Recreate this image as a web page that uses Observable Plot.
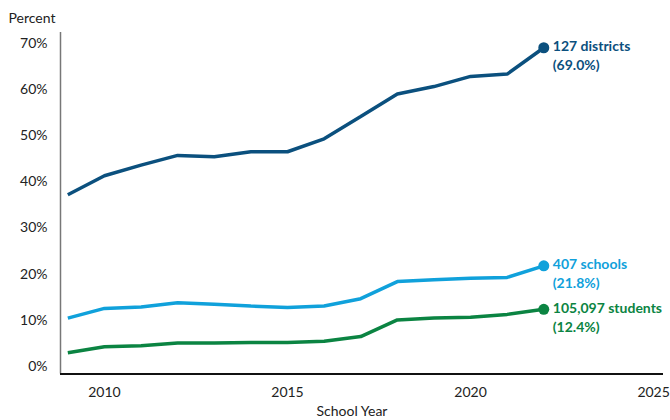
<!DOCTYPE html>
<html>
<head>
<meta charset="utf-8">
<script src="https://cdn.jsdelivr.net/npm/d3@7"></script>
<script src="https://cdn.jsdelivr.net/npm/@observablehq/plot@0.6"></script>
<style>
  html, body { margin: 0; padding: 0; background: #fff; }
  #chart svg { display: block; font-family: Lato, "Open Sans", sans-serif; }
</style>
</head>
<body>
<div id="chart"></div>
<script>
// ---- data ----
const years = [2009, 2010, 2011, 2012, 2013, 2014, 2015, 2016, 2017, 2018, 2019, 2020, 2021, 2022];
const districts = [37.2, 41.3, 43.6, 45.7, 45.4, 46.5, 46.5, 49.3, 54.1, 59.0, 60.6, 62.8, 63.3, 69.0];
const schools   = [10.5, 12.6, 12.9, 13.8, 13.5, 13.1, 12.8, 13.1, 14.7, 18.4, 18.8, 19.1, 19.3, 21.8];
const students  = [3.0, 4.3, 4.5, 5.1, 5.1, 5.2, 5.2, 5.5, 6.5, 10.1, 10.5, 10.7, 11.3, 12.4];
const seriesNames = ["districts", "schools", "students"];
const endLabels = ["127 districts\n(69.0%)", "407 schools\n(21.8%)", "105,097 students\n(12.4%)"];
const xTicks = [2010, 2015, 2020, 2025];
const yTicks = [0, 10, 20, 30, 40, 50, 60, 70];
const xDomain = [2008.8, 2025.27];
const yDomain = [-1.6, 72.3];
const yTitle = "Percent";
const xTitle = "School Year";

// ---- styles ----
const colors = ["#0b507e", "#10a1db", "#0b8442"];

const valuesBySeries = [districts, schools, students];
const rows = seriesNames.flatMap((s, j) =>
  years.map((yr, i) => ({series: s, year: yr, value: valuesBySeries[j][i]})));
const last = seriesNames.map((s, j) => ({
  series: s, year: years[years.length - 1],
  value: valuesBySeries[j][years.length - 1], label: endLabels[j]
}));

const chart = Plot.plot({
  width: 670,
  height: 420,
  marginTop: 32,
  marginLeft: 60,
  marginRight: 7,
  marginBottom: 46.5,
  style: {fontFamily: "Lato, 'Open Sans', sans-serif", fontSize: "14px", color: "#222"},
  x: {domain: xDomain},
  y: {domain: yDomain},
  color: {domain: seriesNames, range: colors},
  marks: [
    Plot.ruleX([xDomain[0]], {stroke: "#777", strokeWidth: 1.5}),
    Plot.ruleY([yDomain[0]], {stroke: "#111", strokeWidth: 2}),
    Plot.axisY({
      ticks: yTicks, tickSize: 0, tickPadding: 13,
      tickFormat: d => d + "%", fontSize: 14, label: null
    }),
    Plot.axisX({
      ticks: xTicks, tickSize: 0, tickPadding: 13,
      tickFormat: d => String(d), fontSize: 14, label: null
    }),
    Plot.text([yTitle], {frameAnchor: "top-left", textAnchor: "start",
      dx: -52, dy: -19, fontSize: 14, fill: "#222"}),
    Plot.text([xTitle], {frameAnchor: "bottom", textAnchor: "middle",
      dx: -10, dy: 42, fontSize: 14, fill: "#222"}),
    Plot.line(rows, {x: "year", y: "value", z: "series", stroke: "series",
      strokeWidth: 3.5, strokeLinejoin: "miter", strokeLinecap: "butt"}),
    Plot.dot(last, {x: "year", y: "value", fill: "series", r: 5.5}),
    Plot.text(last, {x: "year", y: "value", text: "label", fill: "series",
      textAnchor: "start", lineAnchor: "top", dx: 9, dy: -10,
      fontWeight: "bold", fontSize: 14, lineHeight: 1.35})
  ]
});
document.getElementById("chart").append(chart);
</script>
</body>
</html>
